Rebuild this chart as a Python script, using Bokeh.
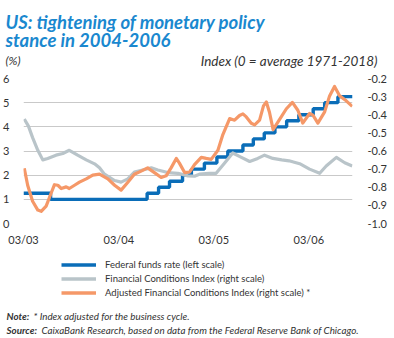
import pandas as pd
from bokeh.plotting import figure
from bokeh.layouts import column
from bokeh.models import (Range1d, LinearAxis, FixedTicker, PrintfTickFormatter,
                          DatetimeTickFormatter, Label, Legend, LegendItem)
from bokeh.embed import file_html
from bokeh.resources import INLINE

# ---------------- data ----------------
fed_dates = ["2003-03-01", "2003-06-13", "2004-06-18", "2004-08-01", "2004-09-12",
             "2004-11-01", "2004-12-05", "2005-01-24", "2005-03-13", "2005-04-24",
             "2005-06-21", "2005-07-31", "2005-09-11", "2005-10-22", "2005-12-06",
             "2006-01-22", "2006-03-18", "2006-05-01", "2006-06-21", "2006-08-16"]
fed_rate = [1.25, 1.00, 1.25, 1.50, 1.75, 2.00, 2.25, 2.50, 2.75, 3.00,
            3.25, 3.50, 3.75, 4.00, 4.25, 4.50, 4.75, 5.00, 5.25, 5.25]

fci_dates = ["2003-03-04", "2003-03-20", "2003-04-05", "2003-04-25", "2003-05-14",
             "2003-06-02", "2003-07-04", "2003-07-30", "2003-08-24", "2003-09-25",
             "2003-10-28", "2003-11-29", "2003-12-18", "2004-01-06", "2004-02-14",
             "2004-03-10", "2004-04-05", "2004-04-30", "2004-06-08", "2004-07-04",
             "2004-07-29", "2004-09-05", "2004-10-14", "2004-11-22", "2004-12-17",
             "2005-01-05", "2005-02-12", "2005-03-10", "2005-04-11", "2005-05-13",
             "2005-06-15", "2005-07-17", "2005-08-17", "2005-09-12", "2005-10-14",
             "2005-11-17", "2005-12-15", "2006-01-25", "2006-03-04", "2006-04-12",
             "2006-05-07", "2006-06-15", "2006-07-17", "2006-08-15"]
fci = [-0.424, -0.463, -0.526, -0.596, -0.649, -0.641, -0.623, -0.614, -0.596, -0.623,
       -0.649, -0.671, -0.693, -0.728, -0.763, -0.772, -0.754, -0.716, -0.702, -0.693,
       -0.705, -0.719, -0.723, -0.737, -0.739, -0.728, -0.723, -0.723, -0.667, -0.611,
       -0.635, -0.658, -0.641, -0.623, -0.641, -0.649, -0.654, -0.670, -0.700, -0.723,
       -0.683, -0.635, -0.665, -0.683]

afci_dates = ["2003-03-04", "2003-03-17", "2003-04-05", "2003-04-25", "2003-05-08",
              "2003-05-27", "2003-06-15", "2003-06-28", "2003-07-11", "2003-07-24",
              "2003-08-12", "2003-08-24", "2003-09-13", "2003-10-02", "2003-10-28",
              "2003-11-22", "2003-12-18", "2004-01-19", "2004-02-14", "2004-03-10",
              "2004-04-05", "2004-04-30", "2004-05-26", "2004-06-20", "2004-07-16",
              "2004-08-11", "2004-08-30", "2004-09-18", "2004-10-08", "2004-10-20",
              "2004-11-09", "2004-11-28", "2004-12-17", "2005-01-12", "2005-01-31",
              "2005-02-19", "2005-03-17", "2005-04-05", "2005-05-01", "2005-05-20",
              "2005-06-08", "2005-06-21", "2005-07-04", "2005-07-23", "2005-08-05",
              "2005-08-24", "2005-09-08", "2005-09-19", "2005-10-01", "2005-10-15",
              "2005-11-09", "2005-12-05", "2005-12-28", "2006-01-18", "2006-02-06",
              "2006-03-04", "2006-03-17", "2006-04-05", "2006-05-01", "2006-05-20",
              "2006-06-08", "2006-06-28", "2006-07-23", "2006-08-15"]
afci = [-0.695, -0.789, -0.877, -0.926, -0.933, -0.904, -0.833, -0.786, -0.789, -0.807,
        -0.798, -0.807, -0.789, -0.772, -0.754, -0.733, -0.728, -0.754, -0.789, -0.816,
        -0.772, -0.728, -0.711, -0.693, -0.719, -0.746, -0.737, -0.693, -0.641, -0.667,
        -0.719, -0.716, -0.675, -0.635, -0.641, -0.646, -0.596, -0.509, -0.421, -0.430,
        -0.404, -0.395, -0.412, -0.447, -0.456, -0.430, -0.351, -0.330, -0.386, -0.482,
        -0.426, -0.367, -0.332, -0.375, -0.446, -0.393, -0.402, -0.446, -0.384, -0.296,
        -0.244, -0.296, -0.323, -0.354]

x_tick_dates = ["2003-03-01", "2004-03-01", "2005-03-01", "2006-03-01"]
left_ticks = [0, 1, 2, 3, 4, 5, 6]
right_ticks = [-1.0, -0.9, -0.8, -0.7, -0.6, -0.5, -0.4, -0.3, -0.2]

title_lines = ["US: tightening of monetary policy", "stance in 2004-2006"]
left_unit = "(%)"
right_unit = "Index (0 = average 1971-2018)"
series_names = ["Federal funds rate (left scale)",
                "Financial Conditions Index (right scale)",
                "Adjusted Financial Conditions Index (right scale) *"]
note_head, note_text = "Note:", "* Index adjusted for the business cycle."
source_head, source_text = "Source:", "CaixaBank Research, based on data from the Federal Reserve Bank of Chicago."

# ---------------- style ----------------
BLUE = "#0a6db8"
GRAY = "#b9c4c9"
ORANGE = "#f59868"
TITLE_BLUE = "#1a88cf"
TXT = "#333333"
FONT = "Lato"
W = 394
H_TOP, H_MID, H_BOT = 70, 178, 90


def text_fig(h, y0):
    f = figure(width=W, height=h, output_backend="svg", toolbar_location=None,
               x_range=Range1d(0, W), y_range=Range1d(y0 + h, y0),
               x_axis_location=None, y_axis_location=None, min_border=0)
    f.min_border_left = f.min_border_right = f.min_border_top = f.min_border_bottom = 0
    f.outline_line_color = None
    f.grid.grid_line_color = None
    return f


def lab(f, text, x, y, size, style="normal", color=TXT, align="left"):
    f.add_layout(Label(x=x, y=y, text=text, text_font=FONT, text_font_size=size,
                       text_font_style=style, text_color=color, text_align=align,
                       text_baseline="alphabetic"))


# ---- top: title ----
top = text_fig(H_TOP, 0)
lab(top, title_lines[0], 5, 21, "18.5px", "bold italic", TITLE_BLUE)
lab(top, title_lines[1], 5, 39, "18.5px", "bold italic", TITLE_BLUE)
lab(top, left_unit, 5, 60, "12px", "italic")
lab(top, right_unit, 377, 60, "13.5px", "italic", align="right")

# ---- middle: chart ----
p = figure(width=W, height=H_MID, output_backend="svg", toolbar_location=None,
           x_axis_type="datetime",
           x_range=Range1d(pd.Timestamp("2003-03-01"), pd.Timestamp("2006-08-16")),
           y_range=Range1d(0, 6),
           min_border_left=23, min_border_right=42, min_border_top=8, min_border_bottom=18)
p.extra_y_ranges = {"r": Range1d(-1.0, -0.2)}
p.outline_line_color = None

r_fed = p.step(pd.to_datetime(fed_dates), fed_rate, mode="after",
               line_color=BLUE, line_width=3.4)
r_fci = p.line(pd.to_datetime(fci_dates), fci, y_range_name="r",
               line_color=GRAY, line_width=3.2, line_join="round")
r_afci = p.line(pd.to_datetime(afci_dates), afci, y_range_name="r",
                line_color=ORANGE, line_width=3.2, line_join="round")

xa = p.xaxis[0]
xa.ticker = FixedTicker(ticks=[pd.Timestamp(d).value / 1e6 for d in x_tick_dates])
xa.formatter = DatetimeTickFormatter(years="%m/%y", months="%m/%y", days="%m/%y",
                                     hours="%m/%y", minutes="%m/%y")
ya = p.yaxis[0]
ya.ticker = FixedTicker(ticks=left_ticks)
ra = LinearAxis(y_range_name="r", ticker=FixedTicker(ticks=right_ticks),
                formatter=PrintfTickFormatter(format="%.1f"))
p.add_layout(ra, "right")
for ax in (xa, ya, ra):
    ax.axis_line_color = None
    ax.major_tick_line_color = None
    ax.minor_tick_line_color = None
    ax.major_label_text_font = FONT
    ax.major_label_text_font_size = "11px"
    ax.major_label_text_color = TXT
xa.major_label_standoff = 3
ya.major_label_standoff = 8
ra.major_label_standoff = 9

p.xgrid.grid_line_color = None
p.ygrid.grid_line_color = "#c9c9c9"
p.ygrid.grid_line_width = 1
p.ygrid.ticker = FixedTicker(ticks=left_ticks)

# ---- bottom: legend and notes ----
bot = text_fig(H_BOT, H_TOP + H_MID)
nan = float("nan")
d1 = bot.line([nan], [nan], line_color=BLUE, line_width=3.6)
d2 = bot.line([nan], [nan], line_color=GRAY, line_width=3.6)
d3 = bot.line([nan], [nan], line_color=ORANGE, line_width=3.6)
legend = Legend(items=[LegendItem(label=n, renderers=[r]) for n, r in zip(series_names, [d1, d2, d3])],
                location=(61, 39), orientation="vertical", glyph_width=35, glyph_height=13,
                label_height=13, label_standoff=9, spacing=1, padding=0, margin=0,
                background_fill_alpha=0, border_line_color=None,
                label_text_font=FONT, label_text_font_size="9.5px", label_text_color=TXT)
bot.add_layout(legend, "center")

lab(bot, note_head, 6, 315, "9.8px", "bold italic")
lab(bot, note_text, 33, 315, "9.8px", "italic")
lab(bot, source_head, 6, 329, "9.8px", "bold italic")
lab(bot, source_text, 41, 329, "9.8px", "italic")

layout = column(column(top), p, column(bot), spacing=0)
open("out.html", "w").write(file_html(layout, INLINE))
